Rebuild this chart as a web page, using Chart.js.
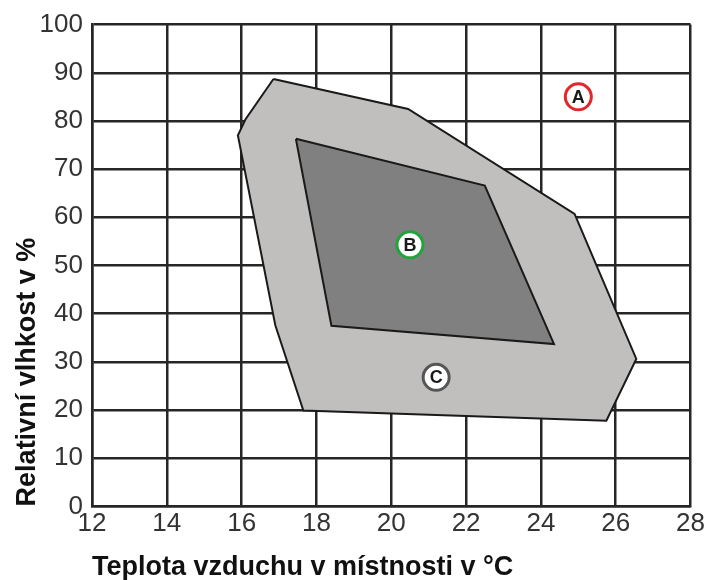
<!DOCTYPE html>
<html>
<head>
<meta charset="utf-8">
<script src="https://cdn.jsdelivr.net/npm/chart.js@4.4.1/dist/chart.umd.min.js"></script>
<style>
	html, body { margin: 0; padding: 0; background: #fff; }
	#wrap { width: 707px; height: 580px; }
</style>
</head>
<body>
<div id="wrap"><canvas id="chart"></canvas></div>
<script>
// tick labels
let xTicks = [12, 14, 16, 18, 20, 22, 24, 26, 28];
let yTicks = [0, 10, 20, 30, 40, 50, 60, 70, 80, 90, 100];

// outer (light) comfort zone, closed polygon [teplota, vlhkost]
let outerX = [16.85, 20.45, 24.9, 26.55, 25.75, 17.65, 16.9, 15.9, 16.1, 16.85];
let outerY = [88.7, 82.5, 60.7, 30.6, 17.8, 19.9, 37.6, 77.0, 80.3, 88.7];

// inner (dark) comfort zone
let innerX = [17.45, 22.5, 24.35, 18.4, 17.45];
let innerY = [76.3, 66.6, 33.7, 37.5, 76.3];

// marked points
let pointLabels = ['A', 'B', 'C'];
let pointX = [25.0, 20.5, 21.2];
let pointY = [85.0, 54.3, 26.8];
let pointBorder = ['#e3262b', '#21a43c', '#555555'];

function toXY(xs, ys){
	var out = [];
	for (var i = 0; i < xs.length; i++) {
		out.push({x: xs[i], y: ys[i]});
	}
	return out;
}

// letters inside the circles
const letterPlugin = {
	id: 'letters',
	afterDatasetsDraw(chart) {
		var ctx = chart.ctx;
		var xs = chart.scales.x, ys = chart.scales.y;
		ctx.save();
		ctx.font = 'bold 18px "Liberation Sans", Arial, sans-serif';
		ctx.fillStyle = '#1a1a1a';
		ctx.textAlign = 'center';
		ctx.textBaseline = 'middle';
		pointLabels.forEach(function (lab, i) {
			ctx.fillText(lab, xs.getPixelForValue(pointX[i]), ys.getPixelForValue(pointY[i]) + 1);
		});
		ctx.restore();
	}
};

let gridColor = '#262626';
let font = '"Liberation Sans", Arial, sans-serif';

var myChart = new Chart(document.getElementById('chart'), {
	type: 'scatter',
	data: {
		datasets: [
			{
				data: toXY(pointX, pointY),
				pointRadius: 13,
				pointBorderWidth: 3,
				pointBackgroundColor: '#ffffff',
				pointBorderColor: pointBorder,
				showLine: false,
				order: 0
			},
			{
				data: toXY(innerX, innerY),
				showLine: true,
				fill: 'shape',
				tension: 0,
				backgroundColor: '#808080',
				borderColor: '#1a1a1a',
				borderWidth: 2,
				pointRadius: 0,
				order: 1
			},
			{
				data: toXY(outerX, outerY),
				showLine: true,
				fill: 'shape',
				tension: 0,
				backgroundColor: '#c1bfbe',
				borderColor: '#1a1a1a',
				borderWidth: 2,
				pointRadius: 0,
				order: 2
			}
		]
	},
	options: {
		responsive: true,
		maintainAspectRatio: false,
		animation: false,
		layout: { padding: { top: 14, right: 4, left: 14, bottom: 0 } },
		plugins: {
			legend: { display: false },
			tooltip: { enabled: false }
		},
		scales: {
			x: {
				type: 'linear',
				min: 12,
				max: 28,
				afterBuildTicks: function (scale) {
					scale.ticks = xTicks.map(function (v) { return {value: v}; });
				},
				grid: { color: gridColor, lineWidth: 2.5, drawTicks: false },
				border: { color: gridColor, width: 2.5 },
				ticks: { color: '#333', font: { family: font, size: 26 }, padding: 2, maxRotation: 0 },
				title: {
					display: true,
					text: 'Teplota vzduchu v místnosti v °C',
					align: 'start',
					color: '#111',
					font: { family: font, size: 27, weight: 'bold' },
					padding: { top: 10, bottom: -4 }
				}
			},
			y: {
				type: 'linear',
				min: 0,
				max: 100,
				afterBuildTicks: function (scale) {
					scale.ticks = yTicks.map(function (v) { return {value: v}; });
				},
				afterFit: function (scale) {
					scale.width = 78;
				},
				grid: { color: gridColor, lineWidth: 2.5, drawTicks: false },
				border: { color: gridColor, width: 2.5 },
				ticks: { color: '#333', font: { family: font, size: 26 }, padding: 9 },
				title: {
					display: true,
					text: 'Relativní vlhkost v %',
					align: 'start',
					color: '#111',
					font: { family: font, size: 27, weight: 'bold', lineHeight: 1 },
					padding: { top: 0, bottom: 2 }
				}
			}
		}
	},
	plugins: [letterPlugin]
});
</script>
</body>
</html>
